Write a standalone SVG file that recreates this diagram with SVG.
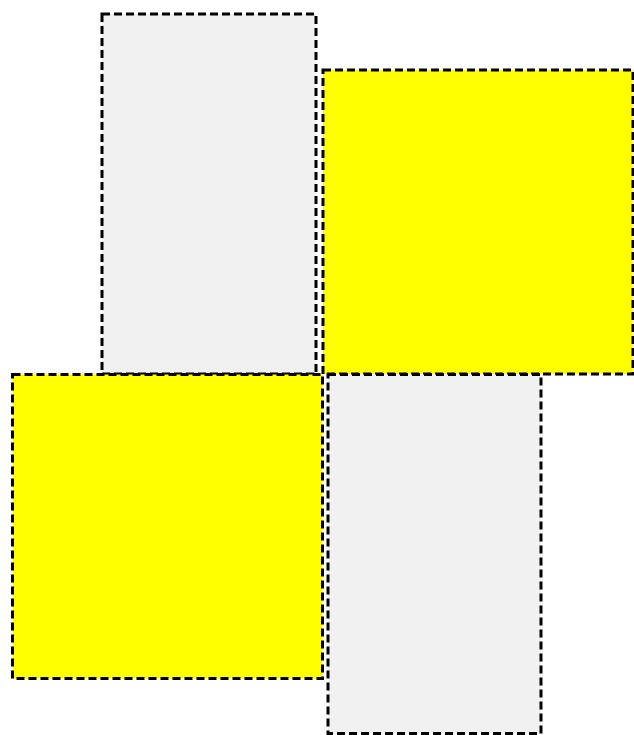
<svg xmlns="http://www.w3.org/2000/svg" width="634" height="735" viewBox="0 0 634 735">
<style>
.b{stroke:#000;stroke-width:3;stroke-dasharray:8 4}
.g{fill:#f1f1f1}
.y{fill:#ffff00}
</style>
<rect width="634" height="735" fill="#fff"/>
<g id="gray-top"><rect class="b g" x="102" y="14" width="214" height="360"/></g>
<g id="yellow-top"><rect class="b y" x="323" y="70" width="310" height="304"/></g>
<g id="yellow-bottom"><rect class="b y" x="12.5" y="374.5" width="310" height="304"/></g>
<g id="gray-bottom"><rect class="b g" x="328" y="374.5" width="213" height="359"/></g>
<g id="connectors"/>
</svg>
